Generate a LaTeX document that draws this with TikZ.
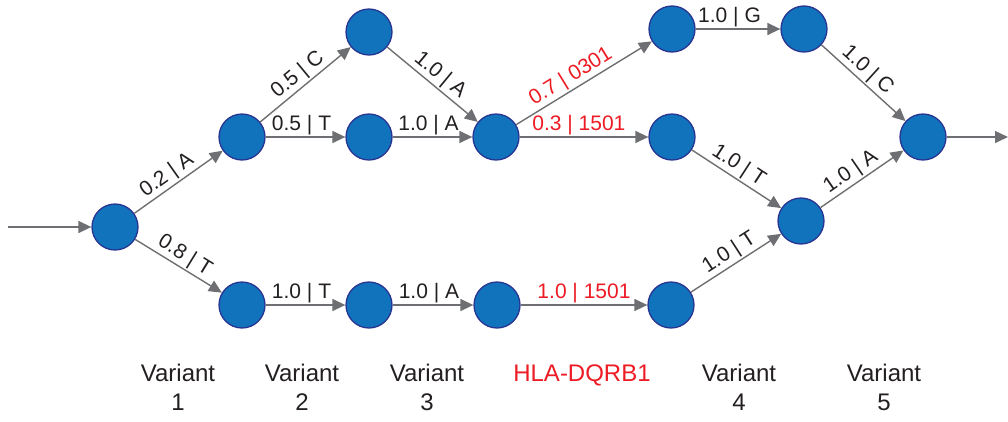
\documentclass[tikz,border=0pt]{standalone}
\usepackage{fontspec}
\setmainfont{Liberation Sans}
\usetikzlibrary{arrows.meta}

\definecolor{nodeblue}{RGB}{17,115,188}
\definecolor{nodeedge}{RGB}{40,52,145}
\definecolor{edgegray}{RGB}{110,111,114}
\definecolor{hlared}{RGB}{237,28,36}
\definecolor{textdark}{RGB}{35,31,32}

\tikzset{
  state/.style={circle, draw=nodeedge, line width=1.3pt, fill=nodeblue,
    minimum size=46pt, inner sep=0pt},
  link/.style={draw=edgegray, line width=1.4pt,
    -{Triangle[length=13pt,width=12pt]}},
  wlabel/.style={font=\fontsize{21}{23}\selectfont, text=textdark,
    inner sep=1.5pt, above, sloped, midway},
  hlalabel/.style={wlabel, text=hlared},
  collabel/.style={font=\fontsize{24}{29}\selectfont, text=textdark,
    align=center, anchor=north}
}

\begin{document}
\begin{tikzpicture}[x=1pt, y=-1pt]
  \useasboundingbox (0,0) rectangle (1008,421);

  % states of the variant graph
  \node[state] (n0)  at (115,227) {};
  \node[state] (n1)  at (242,137) {};
  \node[state] (n2)  at (242,305) {};
  \node[state] (n3)  at (369,32)  {};
  \node[state] (n4)  at (369,137) {};
  \node[state] (n5)  at (369,305) {};
  \node[state] (n6)  at (496,137) {};
  \node[state] (n7)  at (497,305) {};
  \node[state] (n8)  at (672,29)  {};
  \node[state] (n9)  at (672,137) {};
  \node[state] (n10) at (671,305) {};
  \node[state] (n11) at (804,29)  {};
  \node[state] (n12) at (801,221) {};
  \node[state] (n13) at (923,137) {};

  \coordinate (start) at (8,227);
  \coordinate (finish) at (1008,137);

  % transitions
  \draw[link] (start) -- (n0);
  \draw[link] (n0) -- node[wlabel, pos=0.45] {0.2 | A} (n1);
  \draw[link] (n0) -- node[wlabel, pos=0.5] {0.8 | T} (n2);
  \draw[link] (n1) -- node[wlabel, pos=0.5] {0.5 | C} (n3);
  \draw[link] (n1) -- node[wlabel, pos=0.45] {0.5 | T} (n4);
  \draw[link] (n3) -- node[wlabel] {1.0 | A} (n6);
  \draw[link] (n4) -- node[wlabel, pos=0.45] {1.0 | A} (n6);
  \draw[link] (n6) -- node[hlalabel, pos=0.45] {0.7 | 0301} (n8);
  \draw[link] (n6) -- node[hlalabel, pos=0.46] {0.3 | 1501} (n9);
  \draw[link] (n8) -- node[wlabel, pos=0.4] {1.0 | G} (n11);
  \draw[link] (n11) -- node[wlabel, pos=0.45] {1.0 | C} (n13);
  \draw[link] (n9) -- node[wlabel, pos=0.45] {1.0 | T} (n12);
  \draw[link] (n12) -- node[wlabel, pos=0.45] {1.0 | A} (n13);
  \draw[link] (n2) -- node[wlabel, pos=0.45] {1.0 | T} (n5);
  \draw[link] (n5) -- node[wlabel, pos=0.45] {1.0 | A} (n7);
  \draw[link] (n7) -- node[hlalabel] {1.0 | 1501} (n10);
  \draw[link] (n10) -- node[wlabel, pos=0.5] {1.0 | T} (n12);
  \draw[link] (n13) -- (finish);

  % column captions
  \node[collabel] (c1) at (178,361) {Variant\\1};
  \node[collabel] (c2) at (302,361) {Variant\\2};
  \node[collabel] (c3) at (427,361) {Variant\\3};
  \node[collabel, text=hlared] (c4) at (582,361) {HLA-DQRB1};
  \node[collabel] (c5) at (739,361) {Variant\\4};
  \node[collabel] (c6) at (884,361) {Variant\\5};
\end{tikzpicture}
\end{document}
